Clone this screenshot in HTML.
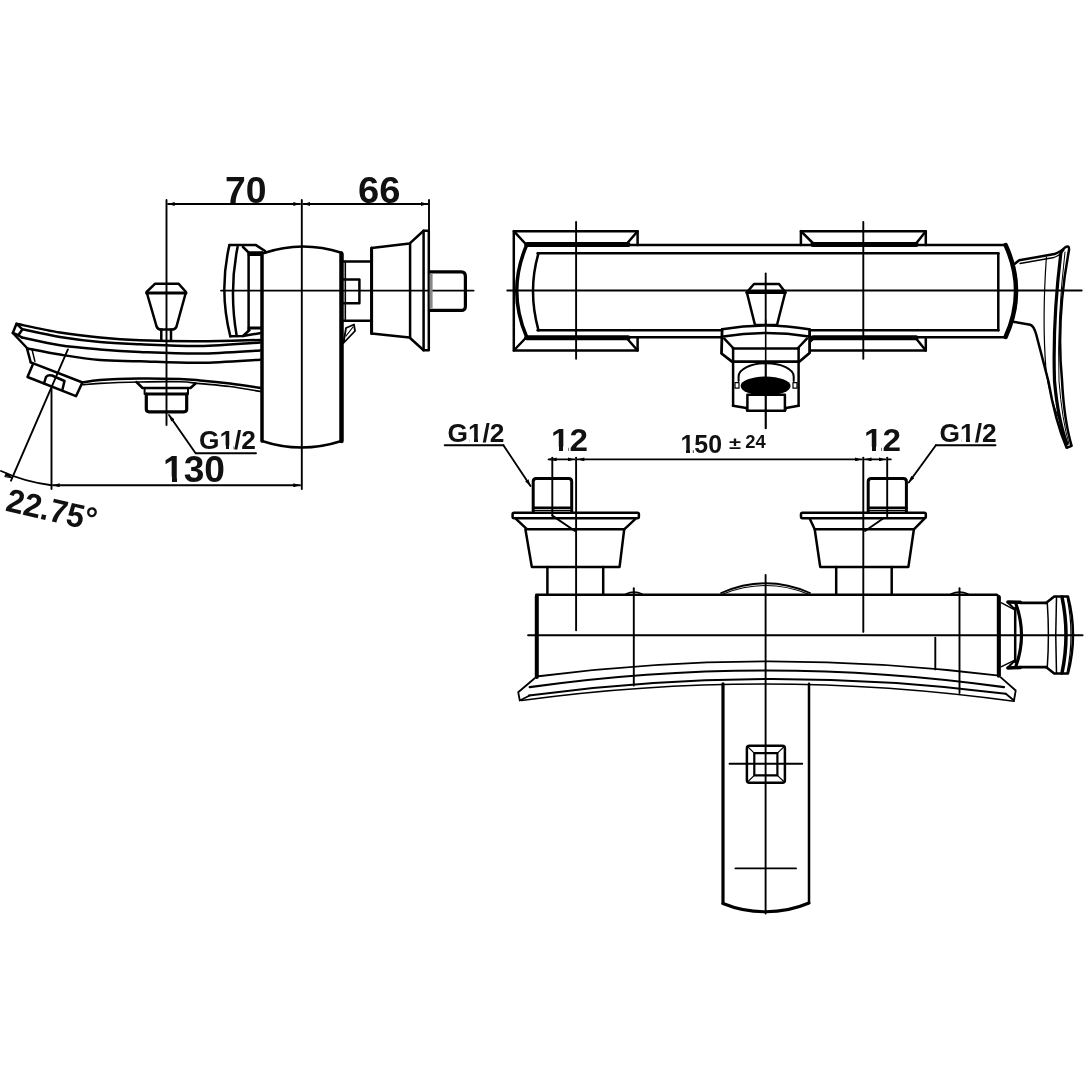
<!DOCTYPE html>
<html><head><meta charset="utf-8"><title>drawing</title>
<style>
html,body{margin:0;padding:0;background:#fff;}
svg{display:block;will-change:transform;}
text{font-family:"Liberation Sans",sans-serif;font-weight:bold;fill:#111;}
</style></head>
<body>
<svg width="1090" height="1090" viewBox="0 0 1090 1090">
<defs>
<marker id="ar" viewBox="0 0 10 6" refX="10" refY="3" markerWidth="7" markerHeight="4" markerUnits="userSpaceOnUse" orient="auto-start-reverse"><path d="M0,0 L10,3 L0,6 Z" fill="#000"/></marker>
</defs>
<rect width="1090" height="1090" fill="#fff"/>

<!-- ================= LEFT SIDE VIEW ================= -->
<g id="left" fill="none" stroke="#000" stroke-linejoin="round" stroke-linecap="round">
  <!-- dimension lines -->
  <g stroke-width="1.9">
    <line x1="166.5" y1="200" x2="166.5" y2="425"/>
    <line x1="301.8" y1="200" x2="301.8" y2="489"/>
    <line x1="429" y1="200" x2="429" y2="232"/>
    <line x1="168" y1="204" x2="300" y2="204" marker-start="url(#ar)" marker-end="url(#ar)"/>
    <line x1="303.5" y1="204" x2="427.5" y2="204" marker-start="url(#ar)" marker-end="url(#ar)"/>
    <line x1="53" y1="485.3" x2="300" y2="485.3" marker-start="url(#ar)" marker-end="url(#ar)"/>
    <line x1="51.5" y1="388" x2="51.5" y2="489"/>
    <line x1="67.9" y1="349.4" x2="11" y2="480.7"/>
    <path d="M1,471 Q 25,482 51.5,485.2"/>
    <!-- centerline -->
    <line x1="221" y1="290.6" x2="473.6" y2="290.6"/>
    <!-- G1/2 leader -->
    <polyline points="196,453.2 256,453.2"/>
    <line x1="195.6" y1="453.2" x2="169" y2="415" marker-end="url(#ar)"/>
  </g>
  <path d="M12,477.6 L6.4,473 L4.9,476.3 Z" fill="#000" stroke="#000" stroke-width="1"/>

  <!-- knob -->
  <g stroke-width="2.5">
    <path d="M154.9,283.8 L178.7,283.8 L186,292 L176.4,326.9 Q175,329.6 172,329.6 L161,329.6 Q158,329.6 156.7,326.9 L146.6,292 Z"/>
    <line x1="146.6" y1="293" x2="186" y2="293" stroke-width="3"/>
    <line x1="161.3" y1="329.6" x2="161.3" y2="340.6"/>
    <line x1="171" y1="329.6" x2="171" y2="340.6"/>
  </g>

  <!-- spout -->
  <g stroke-width="2.5">
    <path d="M16.5,323.8 C23.8,325.3 46.1,330.3 60.0,332.6 C73.9,334.9 86.7,336.3 100.0,337.6 C113.3,338.9 123.3,339.7 140.0,340.3 C156.7,340.9 180.0,341.4 200.0,341.3 C220.0,341.2 250.0,340.2 260.0,340.0"/>
    <path d="M22.5,329.3 C28.8,330.6 47.1,334.9 60.0,337.0 C72.9,339.1 86.7,340.8 100.0,342.0 C113.3,343.2 123.3,343.5 140.0,344.2 C156.7,344.9 180.0,346.3 200.0,346.0 C220.0,345.7 250.0,343.1 260.0,342.5"/>
    <path d="M22.0,337.5 C28.3,338.8 47.0,343.3 60.0,345.3 C73.0,347.3 86.7,348.3 100.0,349.4 C113.3,350.5 123.3,351.2 140.0,351.9 C156.7,352.6 180.0,353.8 200.0,353.6 C220.0,353.4 250.0,351.0 260.0,350.5"/>
    <path d="M27.5,348.5 C32.9,349.5 47.9,352.7 60.0,354.6 C72.1,356.5 86.7,358.9 100.0,360.0 C113.3,361.1 123.3,360.7 140.0,361.2 C156.7,361.7 180.0,363.1 200.0,362.8 C220.0,362.6 250.0,360.2 260.0,359.7"/>
    <!-- tip -->
    <path d="M16.5,323.8 L12.8,333 L18.3,335.2 L22.5,329.3 Z"/>
    <line x1="12.8" y1="333" x2="27.5" y2="348.5"/>
    <line x1="18.3" y1="335.2" x2="22" y2="337.5"/>
    <!-- nozzle -->
    <line x1="27" y1="348.5" x2="30.7" y2="362.3"/>
    <line x1="32" y1="349.4" x2="34.9" y2="361.4" stroke-width="1.5"/>
    <path d="M30.7,362.3 L82.6,382.5 C85.5,382.1 90.4,380.7 100.0,380.0 C109.6,379.3 126.7,378.7 140.0,378.5 C153.3,378.3 170.0,378.7 180.0,379.0 C190.0,379.3 191.7,379.6 200.0,380.4 C208.3,381.1 219.8,382.2 230.0,383.5 C240.2,384.8 255.8,387.2 261.0,388.0"/>
    <path d="M82.6,384.8 C85.5,384.6 90.4,383.9 100.0,383.4 C109.6,382.9 126.7,382.3 140.0,382.0 C153.3,381.7 170.0,381.5 180.0,381.8 C190.0,382.1 191.7,382.8 200.0,383.6 C208.3,384.4 219.8,385.2 230.0,386.5 C240.2,387.8 255.8,390.7 261.0,391.5" stroke-width="1.6"/>
    <path d="M33,364 L27.5,377 L76,396.2 L82,383.4"/>
    <path d="M44,383.4 L46,377 Q48,374.5 52,375.5 L64.5,381 L62.4,389.8"/>
    <!-- nut -->
    <polyline points="136.5,382 142.5,388 190.5,388 195.5,383.5" stroke-width="2.5"/>
    <rect x="144.6" y="388" width="43.4" height="6" stroke-width="2"/>
    <path d="M146.3,394 L146.3,409 Q146.3,411.8 149.1,411.8 L183.9,411.8 Q186.7,411.8 186.7,409 L186.7,394" stroke-width="3.2"/>
    <line x1="146.3" y1="394" x2="186.7" y2="394" stroke-width="3"/>
  </g>

  <!-- body -->
  <g stroke-width="2.5">
    <path d="M264,253 Q302,240 341.5,252.7"/>
    <line x1="262" y1="253" x2="262" y2="441" stroke-width="3.5"/>
    <line x1="341.5" y1="252.7" x2="341.5" y2="441" stroke-width="3"/>
    <path d="M262,441 Q301,454 341.5,441" stroke-width="2.5"/>
  </g>

  <!-- handle -->
  <g stroke-width="2.5">
    <path d="M229.4,245.1 Q218.8,290.6 230.3,336.3"/>
    <path d="M237.6,247 Q228.8,290.6 236.7,336" stroke-width="2.5"/>
    <polyline points="229.4,245.1 256,245.1 265,251"/>
    <polyline points="243,247 248.6,252.5 262,252.5"/>
    <line x1="248.6" y1="252.5" x2="248.6" y2="330"/>
    <line x1="249" y1="254.5" x2="261" y2="254.5" stroke-width="3"/>
    <line x1="249" y1="328" x2="261" y2="328" stroke-width="3"/>
    <polyline points="230.3,336.3 243,336 249.5,330"/>
    <line x1="243" y1="336" x2="261" y2="333"/>
  </g>

  <!-- right connector -->
  <g stroke-width="2.5">
    <polyline points="341.5,261.6 370.8,261.6"/>
    <polyline points="341.5,320.7 370.8,320.7"/>
    <line x1="345.3" y1="261.6" x2="345.3" y2="320.7" stroke-width="1.6"/>
    <polyline points="343,279.6 359.4,279.6 359.4,303.3 343,303.3"/>
    <path d="M371.6,248.1 L409.5,243.6 L423.6,230.8 L428.8,230.8 L428.8,350.2 L423.6,350.2 L409.5,337.5 L371.6,333.5 Z"/>
    <line x1="371.6" y1="248.1" x2="371.6" y2="333.5" stroke-width="3"/>
    <line x1="410.1" y1="243.6" x2="410.1" y2="337.5"/>
    <line x1="423.6" y1="230.8" x2="423.6" y2="350.2" stroke-width="2.5"/>
    <path d="M429.4,271.9 L461.2,271.9 Q465.4,271.9 465.4,276.4 L465.4,306.2 Q465.4,310.4 461.2,310.4 L429.4,310.4" stroke-width="3.2"/>
    <rect x="429.6" y="273.8" width="3" height="34.7" fill="#888" stroke="none"/>
    <path d="M343.5,343 L346,328 L354,324.5 L355,331 Z" stroke-width="1.8"/>
    <line x1="346" y1="336" x2="353" y2="327" stroke-width="1.2"/>
    <line x1="341.5" y1="254" x2="341.5" y2="441" stroke-width="4.5"/>
  </g>
</g>

<!-- left view texts -->
<text x="225" y="202.8" font-size="37" textLength="41.5" lengthAdjust="spacingAndGlyphs">70</text>
<text x="358" y="202.8" font-size="37" textLength="42.5" lengthAdjust="spacingAndGlyphs">66</text>
<text x="163" y="481.6" font-size="36" textLength="62" lengthAdjust="spacingAndGlyphs">130</text>
<text x="199" y="449.4" font-size="26" textLength="57" lengthAdjust="spacingAndGlyphs">G1/2</text>
<text x="0" y="0" font-size="33" textLength="92" lengthAdjust="spacingAndGlyphs" transform="translate(4.5,510.5) rotate(13)">22.75°</text>

<!-- ================= TOP VIEW ================= -->
<g id="top" fill="none" stroke="#000" stroke-linejoin="round" stroke-linecap="round">
  <g stroke-width="1.9">
    <line x1="507.3" y1="290.5" x2="1081.7" y2="290.5"/>
    <line x1="576.1" y1="222" x2="576.1" y2="358.7"/>
    <line x1="863.3" y1="222" x2="863.3" y2="358.7"/>
    <line x1="765.7" y1="273.4" x2="765.7" y2="428.3"/>
  </g>
  <g stroke-width="2.5">
    <!-- body -->
    <line x1="525.7" y1="245" x2="1005.6" y2="245"/>
    <line x1="537.6" y1="253.2" x2="998.3" y2="253.2"/>
    <line x1="537.6" y1="330.3" x2="998.3" y2="330.3"/>
    <line x1="525.7" y1="337.2" x2="1005.6" y2="337.2"/>
    <line x1="998.3" y1="253.2" x2="998.3" y2="330.3"/>
    <path d="M1005.6,245 Q1026.5,290.8 1005.6,337" stroke-width="4.5"/>
    <path d="M526.5,245.5 Q507,290.8 526.5,336.5" stroke-width="3.5"/>
    <path d="M538.5,253.2 Q527.5,290.8 538.5,330.3"/>
    <!-- thick segments under caps -->
    <line x1="527" y1="244.4" x2="628" y2="244.4" stroke-width="5"/>
    <line x1="527" y1="337.8" x2="628" y2="337.8" stroke-width="5"/>
    <line x1="813" y1="244.4" x2="916" y2="244.4" stroke-width="5"/>
    <line x1="813" y1="337.8" x2="916" y2="337.8" stroke-width="5"/>
    <!-- caps -->
    <path d="M637.6,245 L637.6,231.2 L513.8,231.2 L513.8,350.5 L637.6,350.5 L637.6,337.4"/>
    <line x1="513.8" y1="231.2" x2="525.7" y2="244"/>
    <line x1="637.6" y1="231.2" x2="626.6" y2="244"/>
    <line x1="513.8" y1="350.5" x2="525.7" y2="338"/>
    <line x1="637.6" y1="350.5" x2="626.6" y2="338"/>
    <path d="M800.9,245 L800.9,231.2 L925.8,231.2 L925.8,245"/>
    <path d="M800.9,337.4 L800.9,350.5 L925.8,350.5 L925.8,337.4"/>
    <line x1="800.9" y1="231.2" x2="813.8" y2="244"/>
    <line x1="925.8" y1="231.2" x2="915.7" y2="244"/>
    <line x1="800.9" y1="350.5" x2="813.8" y2="338"/>
    <line x1="925.8" y1="350.5" x2="915.7" y2="338"/>
    <!-- lever -->
    <path d="M1014.5,264 L1019.2,260.2 L1054.5,254.1 Q1062,251 1065,247.5 Q1069.5,244.5 1069,250 Q1056,320 1062,380 Q1064,420 1071.6,445.8 L1066.6,447.8 Q1055,420 1048.4,381.2 L1036.3,334.8 Q1034,326 1030.3,324.7 L1013.1,321.7" stroke-width="2.5"/>
    <path d="M1020,263.5 L1054,257.5 Q1061,255 1064,250" stroke-width="1.3"/>
    <path d="M1046.4,257 Q1042,320 1046,370 Q1050,400 1060,421" stroke-width="1.2"/>
    <path d="M1061,252 Q1052.5,320 1054.5,381 Q1058,420 1067,444" stroke-width="3.2"/>
    <path d="M1065,252 Q1057,320 1059,381 Q1062,420 1069,444" stroke-width="1"/>
    <!-- knob -->
    <path d="M754,284 L779,284 L785.3,292.3 L777,325 L755,325 L746.8,292.3 Z"/>
    <line x1="746.8" y1="292.6" x2="785.3" y2="292.6" stroke-width="3"/>
    <!-- nut -->
    <path d="M722.1,329.3 Q765.6,321.5 809.6,329.3 L809.6,353 L799.2,361.7 L732,361.7 L721.5,353.5 Z" fill="#fff" stroke="none"/>
    <path d="M722.1,329.3 Q765.6,321.5 809,329.3"/>
    <path d="M723.2,336.4 Q765.6,329.6 809,336.4"/>
    <path d="M722.1,329.3 L721.5,353.5 L732,361.7 L799.2,361.7 L809.6,353 L809.6,329.3" stroke-width="2.8"/>
    <line x1="724.3" y1="338.6" x2="733.1" y2="348"/>
    <line x1="806.9" y1="338.6" x2="798" y2="348"/>
    <line x1="733" y1="348.5" x2="798.6" y2="348.5"/>
    <line x1="765.7" y1="320" x2="765.7" y2="428.3" stroke-width="1.6"/>
    <!-- outlet -->
    <line x1="733.1" y1="348" x2="733.1" y2="405.8" stroke-width="2.5"/>
    <line x1="798.6" y1="348" x2="798.6" y2="405.8" stroke-width="2.5"/>
    <polyline points="733,405.8 746.3,408 747.4,410.7 784.9,410.7 786,408 798.6,405.8"/>
    <polyline points="747.4,410.7 747.4,394.8 784.9,394.8 784.9,410.7" stroke-width="2.5"/>
    <path d="M738.6,381 L738.6,376.5 A27.5,13.2 0 0 1 793.7,376.5 L793.7,381" stroke-width="2"/>
    <ellipse cx="765.6" cy="386" rx="25" ry="9.6" fill="#000" stroke="none"/>
    <rect x="735" y="382.7" width="4" height="5.5" stroke-width="1.2"/>
    <rect x="793" y="382.7" width="4" height="5.5" stroke-width="1.2"/>
  </g>
</g>

<!-- ================= FRONT VIEW ================= -->
<g id="front" fill="none" stroke="#000" stroke-linejoin="round" stroke-linecap="round">
  <g stroke-width="1.9">
    <line x1="550" y1="459.4" x2="574.5" y2="459.4" marker-start="url(#ar)" marker-end="url(#ar)"/>
    <line x1="577.7" y1="459.4" x2="861.7" y2="459.4" marker-start="url(#ar)" marker-end="url(#ar)"/>
    <line x1="864.9" y1="459.4" x2="885.6" y2="459.4" marker-start="url(#ar)" marker-end="url(#ar)"/>
    <line x1="548.6" y1="459.4" x2="551" y2="459.4"/>
    <line x1="888" y1="459.4" x2="890.8" y2="459.4"/>
    <line x1="552.3" y1="457.6" x2="552.3" y2="515.6"/>
    <line x1="552.3" y1="515.6" x2="575" y2="531"/>
    <line x1="576.1" y1="457.6" x2="576.1" y2="630.3"/>
    <line x1="887.2" y1="457.6" x2="887.2" y2="516.4"/>
    <line x1="883.5" y1="518.3" x2="865" y2="531"/>
    <line x1="863.3" y1="457.6" x2="863.3" y2="631.9"/>
    <line x1="528.1" y1="635.2" x2="1082.6" y2="635.2"/>
    <line x1="765.6" y1="575" x2="765.6" y2="913.5"/>
    <line x1="633.8" y1="588.2" x2="633.8" y2="685.6"/>
    <line x1="959.5" y1="588.2" x2="959.5" y2="693"/>
    <line x1="935.3" y1="637.8" x2="935.3" y2="669.4"/>
    <line x1="729.5" y1="763.8" x2="802.2" y2="763.8"/>
    <line x1="735.4" y1="868.4" x2="796" y2="868.4"/>
    <!-- leaders -->
    <polyline points="444.7,445.2 503.4,445.2"/>
    <line x1="503.4" y1="445.2" x2="530.5" y2="486" marker-end="url(#ar)"/>
    <polyline points="935.9,445.2 995.5,445.2"/>
    <line x1="935.9" y1="445.2" x2="908.8" y2="482.5" marker-end="url(#ar)"/>
  </g>
  <g stroke-width="2.5">
    <!-- left connector -->
    <path d="M533.2,512.6 L533.2,481.5 Q533.2,478.5 536.2,478.5 L568.7,478.5 Q571.7,478.5 571.7,481.5 L571.7,512.6" stroke-width="3"/>
    <line x1="533.2" y1="507.8" x2="571.7" y2="507.8" stroke-width="2.5"/>
    <line x1="534.5" y1="510.3" x2="570.5" y2="510.3" stroke-width="1.3"/>
    <rect x="512.6" y="512.8" width="126.3" height="5.5" rx="1.5"/>
    <polyline points="516.2,519.2 527.2,529.3 624.2,529.3 635.2,519.2"/>
    <polyline points="525.4,529.3 531.8,566.9 619.6,566.9 624.2,529.3" stroke-width="2.5"/>
    <line x1="547.4" y1="567" x2="547.4" y2="594.4"/>
    <line x1="603.2" y1="567" x2="603.2" y2="594.4"/>
    <!-- right connector -->
    <path d="M868.2,512.6 L868.2,481.5 Q868.2,478.5 871.2,478.5 L903.4,478.5 Q906.4,478.5 906.4,481.5 L906.4,512.6" stroke-width="3"/>
    <line x1="868.2" y1="507.8" x2="906.4" y2="507.8" stroke-width="2.5"/>
    <line x1="869.5" y1="510.3" x2="905" y2="510.3" stroke-width="1.3"/>
    <rect x="801" y="512.8" width="124.8" height="5.5" rx="1.5"/>
    <polyline points="810,519.2 814.7,529.3 913.9,529.3 924,519.2"/>
    <polyline points="814.7,529.3 820.2,566.9 908.4,566.9 913.9,529.3" stroke-width="2.5"/>
    <line x1="836.2" y1="567" x2="836.2" y2="594.4"/>
    <line x1="891.7" y1="567" x2="891.7" y2="594.4"/>
    <!-- body -->
    <polyline points="536.3,677.3 536.3,594.8 997,594.8 999.2,597 999.2,675.7" stroke-width="2.5"/>
    <line x1="536.8" y1="596" x2="536.8" y2="677" stroke-width="4"/>
    <line x1="998.8" y1="597" x2="998.8" y2="675.7" stroke-width="4"/>
    <path d="M721.1,593 Q765.7,573.5 810,593" stroke-width="1.8"/>
    <path d="M723,594 Q765.7,577 808,594" stroke-width="1.2"/>
    <path d="M626,594 Q634,590 642,594" stroke-width="1.5"/>
    <path d="M951,594 Q959.5,590 968,594" stroke-width="1.5"/>
    <!-- base curves -->
    <path d="M536.3,676.5 Q765.5,646.5 999.2,675.7" stroke-width="1.8"/>
    <path d="M529.7,687.2 Q765.5,653.8 1004,687.2" stroke-width="2.2"/>
    <path d="M528.9,695.5 Q765.5,663.5 1005.8,693.8" stroke-width="2"/>
    <path d="M521.5,700.5 Q765.5,667 1014,701.3" stroke-width="1.6"/>
    <polyline points="534.7,678.2 518.2,692.2 519.8,700.5 529.7,695.5" stroke-width="1.8"/>
    <polyline points="1000.8,677.3 1015.7,690.5 1014,700.5 1005.8,693.8" stroke-width="1.8"/>
    <!-- right side connector -->
    <line x1="1001.5" y1="602.9" x2="1014.8" y2="609.8" stroke-width="1.5"/>
    <line x1="1001.5" y1="666.7" x2="1014.8" y2="660.2" stroke-width="1.5"/>
    <line x1="1008" y1="602" x2="1020.3" y2="602.3" stroke-width="3.5"/>
    <line x1="1008" y1="668" x2="1020.3" y2="667.5" stroke-width="3.5"/>
    <line x1="1007.4" y1="602" x2="1015.2" y2="609.8" stroke-width="2"/>
    <line x1="1007.4" y1="668" x2="1015.2" y2="660.2" stroke-width="2"/>
    <line x1="1015.2" y1="608" x2="1015.2" y2="662" stroke-width="2.5"/>
    <path d="M1016,604 Q1027,635 1016,666" stroke-width="3.2"/>
    <line x1="1020.3" y1="602.9" x2="1046" y2="602.9" stroke-width="2.8"/>
    <line x1="1020.3" y1="667.1" x2="1046" y2="667.1" stroke-width="2.8"/>
    <path d="M1046,602.9 L1054.2,596.5 L1068,596.5 Q1078,635 1068,673.5 L1054.2,673.5 L1046,667.1" stroke-width="2.5"/>
    <path d="M1047.3,603 Q1049.5,635 1047.3,667" stroke-width="1.5"/>
    <path d="M1056.5,597 Q1055,635 1056.5,673" stroke-width="1.5"/>
    <path d="M1062,597 Q1070,635 1062,673" stroke-width="3.5"/>
    <path d="M1067,597 Q1075,635 1067,673" stroke-width="1.2"/>
    <!-- spout -->
    <line x1="723" y1="683.8" x2="723" y2="903.2" stroke-width="3.2"/>
    <line x1="809" y1="683.8" x2="809" y2="902.5" stroke-width="2.5"/>
    <path d="M723,903.5 A112,112 0 0 0 809,903" stroke-width="3"/>
    
    <rect x="746.9" y="745.7" width="38" height="37.1" rx="2.5" stroke-width="2.5"/>
    <rect x="754.3" y="753.1" width="23.1" height="22.3" stroke-width="2.2"/>
    <line x1="747.5" y1="746.5" x2="754.3" y2="753.1" stroke-width="1.2"/>
    <line x1="784.3" y1="746.5" x2="777.4" y2="753.1" stroke-width="1.2"/>
    <line x1="747.5" y1="782" x2="754.3" y2="775.4" stroke-width="1.2"/>
    <line x1="784.3" y1="782" x2="777.4" y2="775.4" stroke-width="1.2"/>
  </g>
</g>

<!-- front view texts -->
<text x="447.5" y="441.6" font-size="25.5" textLength="57" lengthAdjust="spacingAndGlyphs">G1/2</text>
<text x="939.6" y="441.6" font-size="25.5" textLength="57" lengthAdjust="spacingAndGlyphs">G1/2</text>
<text x="551" y="451.3" font-size="32" textLength="37" lengthAdjust="spacingAndGlyphs">12</text>
<text x="864" y="451.3" font-size="32" textLength="37" lengthAdjust="spacingAndGlyphs">12</text>
<text x="680.5" y="453.1" font-size="26.5" textLength="41.5" lengthAdjust="spacingAndGlyphs">150</text>
<text x="729" y="448.5" font-size="17" textLength="12" lengthAdjust="spacingAndGlyphs">±</text>
<text x="745.3" y="448.3" font-size="17.5" textLength="20.5" lengthAdjust="spacingAndGlyphs">24</text>

<!-- hide base serif of "1" glyphs -->
<g fill="#fff" stroke="none">
<rect x="164" y="476.6" width="8" height="5.8"/><rect x="177" y="476.6" width="6.3" height="5.8"/>
<rect x="552" y="446.6" width="7" height="4.9"/><rect x="563" y="446.6" width="5" height="4.9"/>
<rect x="865" y="446.6" width="7" height="4.9"/><rect x="876" y="446.6" width="5" height="4.9"/>
<rect x="681" y="448.6" width="5" height="4.9"/><rect x="690" y="448.6" width="2.8" height="4.9"/>
<rect x="220.5" y="445.6" width="5.5" height="3.6"/><rect x="229" y="445.6" width="4" height="3.6"/>
<rect x="469.5" y="438.6" width="4.5" height="3.6"/><rect x="478" y="438.6" width="4" height="3.6"/>
<rect x="961.5" y="438.6" width="4.5" height="3.6"/><rect x="970" y="438.6" width="4" height="3.6"/>
</g>
</svg>
</body></html>
